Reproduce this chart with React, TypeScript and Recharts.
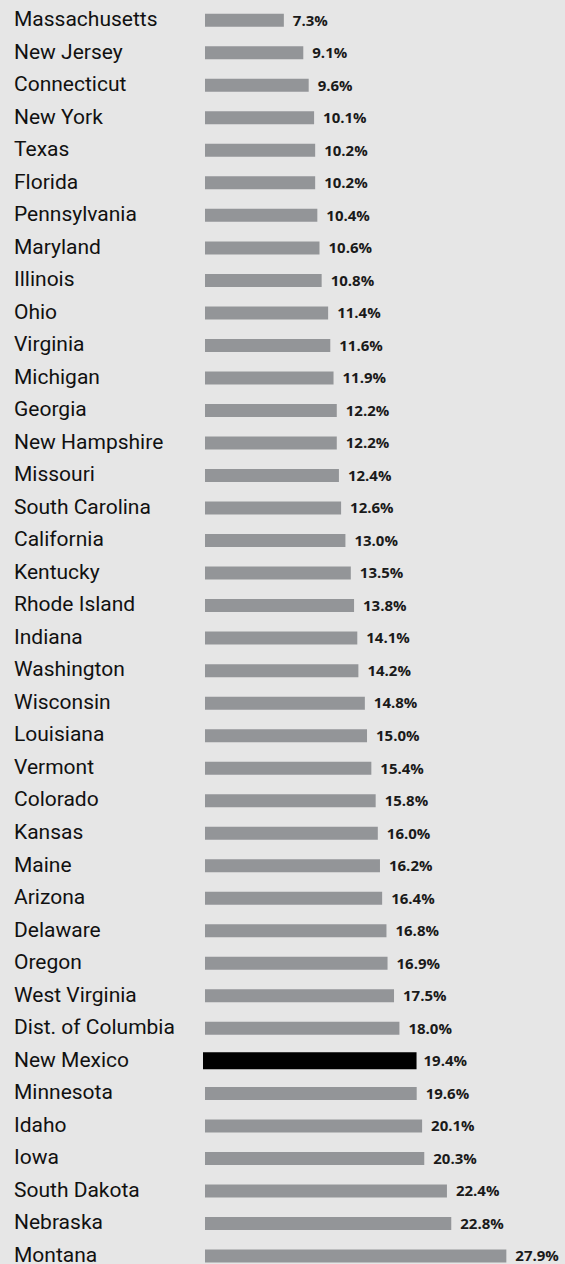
import React from "react";
import { BarChart, Bar, XAxis, YAxis, Cell, LabelList } from "recharts";

const states = [
  "Massachusetts", "New Jersey", "Connecticut", "New York", "Texas", "Florida",
  "Pennsylvania", "Maryland", "Illinois", "Ohio", "Virginia", "Michigan",
  "Georgia", "New Hampshire", "Missouri", "South Carolina", "California",
  "Kentucky", "Rhode Island", "Indiana", "Washington", "Wisconsin", "Louisiana",
  "Vermont", "Colorado", "Kansas", "Maine", "Arizona", "Delaware", "Oregon",
  "West Virginia", "Dist. of Columbia", "New Mexico", "Minnesota", "Idaho",
  "Iowa", "South Dakota", "Nebraska", "Montana",
];

const rates = [
  7.3, 9.1, 9.6, 10.1, 10.2, 10.2, 10.4, 10.6, 10.8, 11.4, 11.6, 11.9,
  12.2, 12.2, 12.4, 12.6, 13.0, 13.5, 13.8, 14.1, 14.2, 14.8, 15.0,
  15.4, 15.8, 16.0, 16.2, 16.4, 16.8, 16.9, 17.5, 18.0, 19.4, 19.6, 20.1,
  20.3, 22.4, 22.8, 27.9,
];

const highlight = "New Mexico";

const data = states.map((state, i) => ({ state, rate: rates[i] }));

const StateTick = (props: any) => {
  const { y, payload } = props;
  return (
    <text
      x={14}
      y={y}
      dy={6}
      textAnchor="start"
      fill="#111"
      fontSize={21}
      fontFamily="Roboto, sans-serif"
    >
      {payload.value}
    </text>
  );
};

export default function App() {
  return (
    <div
      style={{
        position: "absolute",
        left: 0,
        top: 0,
        width: 565,
        height: 1264,
        overflow: "hidden",
        background: "#e6e6e6",
      }}
    >
      <BarChart
        width={565}
        height={1272}
        data={data}
        layout="vertical"
        margin={{ top: 3.75, right: 0, bottom: 0, left: 0 }}
      >
        <XAxis type="number" hide domain={[0, 33.33]} />
        <YAxis
          type="category"
          dataKey="state"
          width={205}
          axisLine={false}
          tickLine={false}
          interval={0}
          tick={<StateTick />}
        />
        <Bar dataKey="rate" barSize={13} fill="#939598" isAnimationActive={false}>
          {data.map((d) => (
            <Cell
              key={d.state}
              fill={d.state === highlight ? "#000" : "#939598"}
              stroke={d.state === highlight ? "#000" : "none"}
              strokeWidth={d.state === highlight ? 4 : 0}
            />
          ))}
          <LabelList
            dataKey="rate"
            position="right"
            offset={9}
            formatter={(v: any) => `${Number(v).toFixed(1)}%`}
            fill="#1a1a1a"
            fontSize={15}
            fontWeight="bold"
            fontFamily="'Open Sans', sans-serif"
          />
        </Bar>
      </BarChart>
    </div>
  );
}
